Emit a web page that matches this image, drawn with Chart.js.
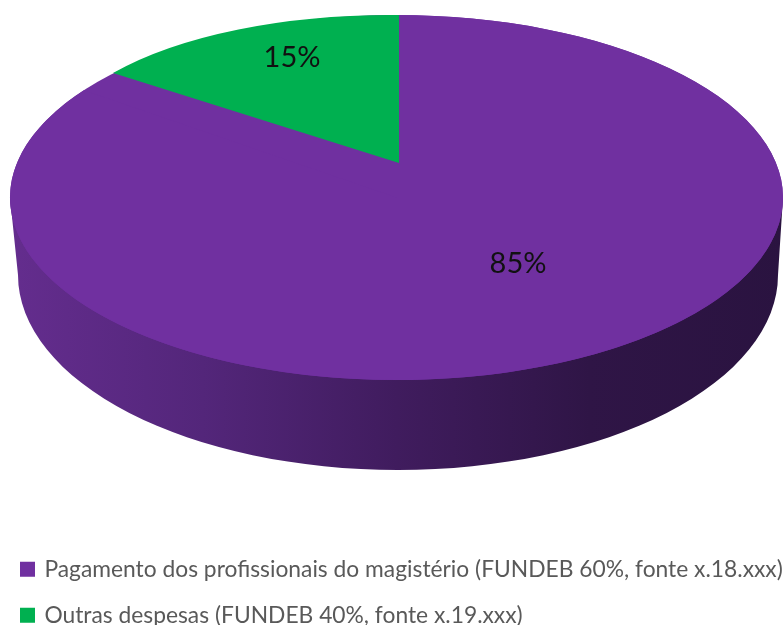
<!DOCTYPE html>
<html>
<head>
<meta charset="utf-8">
<script src="https://cdn.jsdelivr.net/npm/chart.js@4/dist/chart.umd.min.js"></script>
<style>
  html, body { margin: 0; padding: 0; background: #fff; }
  #wrap { width: 783px; height: 625px; }
</style>
</head>
<body>
<div id="wrap"><canvas id="pie"></canvas></div>
<script>
// Chart data
const categories = [
    "Pagamento dos profissionais do magistério (FUNDEB 60%, fonte x.18.xxx)",
    "Outras despesas (FUNDEB 40%, fonte x.19.xxx)"
];
const shares = [85, 15];
const sliceColors = ["#7030A0", "#00B050"];

// Look of the tilted pie: where each slice's circle lands on the page
const topFace = { x: 396.5, y: 197.5, rx: 386.5, ry: 182.5 };
const sliceViews = [
    { x: 396.5, y: 197.5, ax: 386.5, ay: 0, bx: 0, by: -182.5 },
    { x: 399, y: 163, ax: 353.5, ay: 3.7, bx: 0, by: -148 }
];
const wallBottom = { x: 398, y: 275, rx: 380, ry: 195 };
const labelSpots = [{ x: 518, y: 264 }, { x: 292, y: 58 }];
const legendShift = { x: 1.2, y: 11.7 };

const tiltPlugin = {
    id: "tilt",
    afterDatasetsUpdate(chart) {
        // every arc gets its own flat projection, the drawing stays Chart.js
        chart.getDatasetMeta(0).data.forEach((arc, i) => {
            const view = sliceViews[i];
            arc.draw = function (ctx, area) {
                const r = this.outerRadius;
                const a = view.ax / r, b = view.ay / r, c = -view.bx / r, d = -view.by / r;
                ctx.save();
                ctx.transform(a, b, c, d,
                    view.x - a * this.x - c * this.y,
                    view.y - b * this.x - d * this.y);
                Chart.ArcElement.prototype.draw.call(this, ctx, area);
                ctx.restore();
            };
        });
    },
    afterLayout(chart) {
        chart.legend.left -= legendShift.x;
        chart.legend.top += legendShift.y;
    },
    beforeDatasetsDraw(chart) {
        const ctx = chart.ctx;
        // side wall
        const wall = ctx.createLinearGradient(topFace.x - topFace.rx, 0, topFace.x + topFace.rx, 0);
        wall.addColorStop(0, "#642D8E");
        wall.addColorStop(0.25, "#53267A");
        wall.addColorStop(0.5, "#401C5E");
        wall.addColorStop(0.75, "#2F1546");
        wall.addColorStop(1, "#2A1340");
        ctx.save();
        ctx.fillStyle = wall;
        ctx.beginPath();
        ctx.moveTo(topFace.x - topFace.rx, topFace.y);
        ctx.lineTo(wallBottom.x - wallBottom.rx, wallBottom.y);
        ctx.ellipse(wallBottom.x, wallBottom.y, wallBottom.rx, wallBottom.ry, 0, Math.PI, 0, true);
        ctx.lineTo(topFace.x + topFace.rx, topFace.y);
        ctx.closePath();
        ctx.fill();
        // top face under the slices
        ctx.fillStyle = sliceColors[0];
        ctx.beginPath();
        ctx.ellipse(topFace.x, topFace.y, topFace.rx, topFace.ry, 0, 0, Math.PI * 2);
        ctx.fill();
        ctx.restore();
    },
    afterDatasetsDraw(chart) {
        const ctx = chart.ctx;
        ctx.save();
        ctx.font = "29px Lato";
        ctx.fillStyle = "#111";
        ctx.textAlign = "center";
        ctx.textBaseline = "middle";
        shares.forEach((value, i) => {
            ctx.fillText(value + "%", labelSpots[i].x, labelSpots[i].y);
        });
        ctx.restore();
    }
};

new Chart(document.getElementById("pie"), {
    type: "pie",
    data: {
        labels: categories,
        datasets: [{
            data: shares,
            backgroundColor: sliceColors,
            borderWidth: 0,
            clip: false
        }]
    },
    options: {
        responsive: true,
        maintainAspectRatio: false,
        animation: false,
        plugins: {
            tooltip: { enabled: false },
            legend: {
                position: "bottom",
                align: "start",
                labels: {
                    color: "#595959",
                    font: { family: "Lato", size: 22.8 },
                    boxWidth: 11,
                    boxHeight: 11,
                    padding: 23.2,
                    // thick outline so the swatch is bigger than the gap before the text
                    generateLabels(chart) {
                        return categories.map((text, i) => ({
                            text: text,
                            fillStyle: sliceColors[i],
                            strokeStyle: sliceColors[i],
                            fontColor: "#595959",
                            lineWidth: 4,
                            index: i
                        }));
                    }
                }
            }
        }
    },
    plugins: [tiltPlugin]
});
</script>
</body>
</html>
